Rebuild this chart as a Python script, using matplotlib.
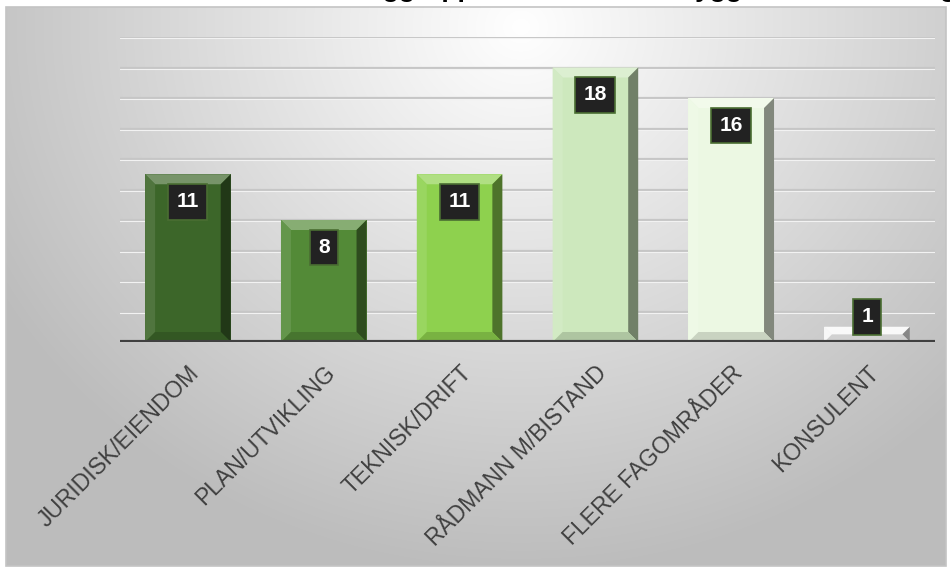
import matplotlib.pyplot as plt
import matplotlib.colors as mc
import numpy as np
from matplotlib.patches import Polygon, Rectangle

plt.rcParams['font.family'] = ['Liberation Sans', 'DejaVu Sans']

# Data
categories = ['JURIDISK/EIENDOM', 'PLAN/UTVIKLING', 'TEKNISK/DRIFT',
              'RÅDMANN M/BISTAND', 'FLERE FAGOMRÅDER', 'KONSULENT']
values = [11, 8, 11, 18, 16, 1]
bar_colors = ['#3c6629', '#538a37', '#8ed14e', '#cde8bd', '#ecf8e3', '#f6f6f6']
title = 'Hvilken faggruppe har ansvar for byggesaksbehandlingen'

W, H = 950, 574
fig = plt.figure(figsize=(W / 100, H / 100), dpi=100)

# Background panel with a soft radial gradient
bg = fig.add_axes([0, 0, 1, 1])
bg.axis('off')
yy, xx = np.mgrid[0:H, 0:W]
d = np.sqrt(((xx - 520) / 650.0) ** 2 + ((yy - 20) / 600.0) ** 2)
shade = np.clip(1.0 - 0.28 * d, 0.74, 1.0)
img = np.dstack([shade, shade, shade])
bg.imshow(img, extent=[6, 946, 566, 7], aspect='auto', zorder=0)
bg.add_patch(Rectangle((6, 7), 940, 559, fill=False, edgecolor='#c4c4c4', lw=1.2, zorder=1))
bg.set_xlim(0, W)
bg.set_ylim(H, 0)

# Title sits above the top edge, only its descenders show
fig.text(0.655, 1.0 + 2.5 / H, title, ha='center', va='baseline',
         fontsize=19, fontweight='bold', color='black')

# Main plot axes
left, right, top, bottom = 120, 935, 37, 342
ax = fig.add_axes([left / W, 1 - bottom / H, (right - left) / W, (bottom - top) / H])
ax.patch.set_alpha(0)
ax.set_xlim(-0.5, len(categories) - 0.5)
ax.set_ylim(0, 20)
for s in ax.spines.values():
    s.set_visible(False)

for g in range(2, 21, 2):
    ax.axhline(g, color='#c6c6c6', lw=1.6, zorder=1)
    ax.axhline(g - 0.09, color='#f2f2f2', lw=0.8, zorder=1)
ax.axhline(0, color='#404040', lw=3, zorder=5)

x = np.arange(len(categories))
bw = 0.63
bars = ax.bar(x, values, width=bw, color=bar_colors, edgecolor='none', zorder=3)

# Bevel effect
px_x = (right - left) / len(categories)
px_y = (bottom - top) / 20.0
bx = 10 / px_x
by = 10 / px_y


def shade_col(c, f):
    r = np.array(mc.to_rgb(c))
    if f > 1:
        return tuple(r + (1 - r) * (f - 1))
    return tuple(r * f)


for xi, v, c in zip(x, values, bar_colors):
    x0, x1 = xi - bw / 2, xi + bw / 2
    b = min(by, v / 2)
    bxx = min(bx, b * px_y / px_x)
    # top bevel
    ax.add_patch(Polygon([(x0, v), (x1, v), (x1 - bxx, v - b), (x0 + bxx, v - b)],
                         closed=True, facecolor=shade_col(c, 1.3), edgecolor='none', zorder=4))
    # right bevel
    ax.add_patch(Polygon([(x1, v), (x1, 0), (x1 - bxx, b), (x1 - bxx, v - b)],
                         closed=True, facecolor=shade_col(c, 0.55), edgecolor='none', zorder=4))
    # left bevel
    ax.add_patch(Polygon([(x0, v), (x0, 0), (x0 + bxx, b), (x0 + bxx, v - b)],
                         closed=True, facecolor=shade_col(c, 1.1), edgecolor='none', zorder=4))
    # bottom bevel
    ax.add_patch(Polygon([(x0, 0), (x1, 0), (x1 - bxx, b), (x0 + bxx, b)],
                         closed=True, facecolor=shade_col(c, 0.85), edgecolor='none', zorder=4))

    ly = max(v - 1.8, 1.64)
    ax.text(xi, ly, str(v), ha='center', va='center', fontsize=15, fontweight='bold',
            color='white', zorder=6,
            bbox=dict(boxstyle='square,pad=0.4', facecolor='#222222',
                      edgecolor='#4a6e32', linewidth=1.2))

ax.set_xticks(x)
ax.set_xticklabels(categories, rotation=45, ha='right', va='top', rotation_mode='anchor',
                   fontsize=16.5, color='#404040')
ax.tick_params(axis='x', length=0, pad=14)
ax.set_yticks([])

fig.savefig('out.png', dpi=100)
